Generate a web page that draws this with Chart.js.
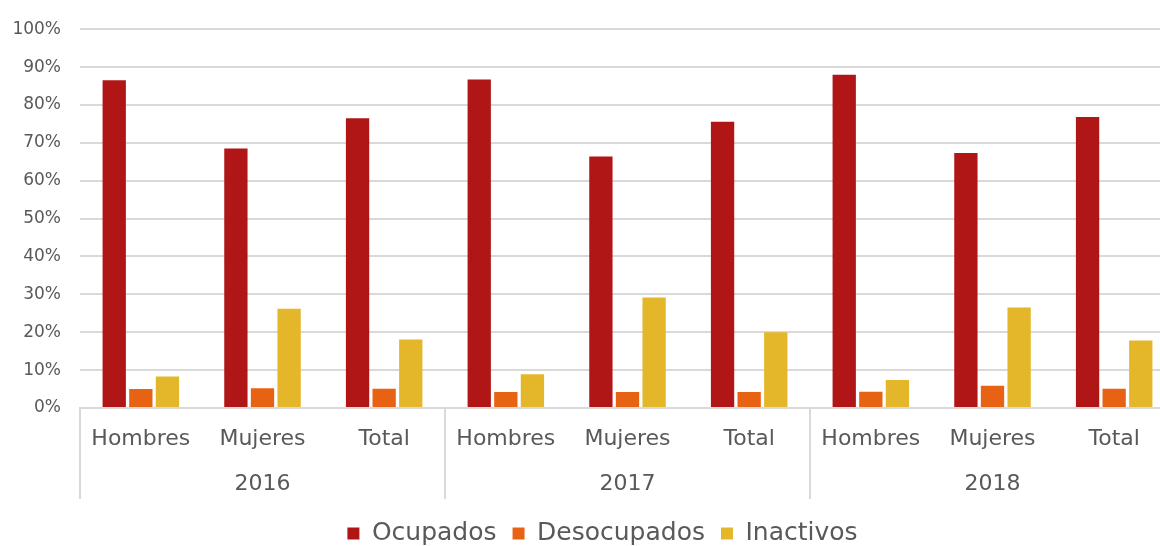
<!DOCTYPE html>
<html lang="es">
<head>
  <meta charset="UTF-8" />
  <title>Ocupados, desocupados e inactivos</title>
  <script src="https://cdn.jsdelivr.net/npm/chart.js"></script>
  <style>
    html, body { margin: 0; padding: 0; background: #fff; overflow: hidden; }
    .caja { width: 1205px; height: 546px; position: relative; }
  </style>
</head>
<body>
  <div class="caja">
    <canvas id="grafico"></canvas>
  </div>

<script>
  // datos (en %)
  const categorias = ["Hombres", "Mujeres", "Total", "Hombres", "Mujeres", "Total", "Hombres", "Mujeres", "Total"];
  const anios = ["2016", "2017", "2018"];
  const ocupados = [86.5, 68.5, 76.5, 86.7, 66.4, 75.6, 88.0, 67.3, 76.8];
  const desocupados = [5.0, 5.2, 5.1, 4.2, 4.2, 4.2, 4.3, 5.9, 5.1];
  const inactivos = [8.3, 26.2, 18.1, 8.9, 29.2, 20.0, 7.4, 26.5, 17.8];

  const gris = "#595959";
  const grisLinea = "#d9d9d9";
  const fuente = "'DejaVu Sans', sans-serif";

  // lineas verticales que separan cada año debajo del eje
  const separadores = {
    id: "separadores",
    afterDraw(chart) {
      const x = chart.scales.x;
      const x2 = chart.scales.x2;
      const ctx = chart.ctx;
      const paso = (x.getPixelForValue(1) - x.getPixelForValue(0));
      ctx.save();
      ctx.strokeStyle = grisLinea;
      ctx.lineWidth = 2;
      for (let i = 0; i <= categorias.length; i += 3) {
        const px = Math.round(x.getPixelForValue(i) - paso / 2);
        ctx.beginPath();
        ctx.moveTo(px, chart.chartArea.bottom);
        ctx.lineTo(px, x2.top + 46);
        ctx.stroke();
      }
      ctx.restore();
    }
  };

  const ctx = document.getElementById("grafico").getContext("2d");

  const datos = {
    labels: categorias,
    datasets: [
      { label: "Ocupados", data: ocupados, backgroundColor: "#b01615" },
      { label: "Desocupados", data: desocupados, backgroundColor: "#e86214" },
      { label: "Inactivos", data: inactivos, backgroundColor: "#e4b72a" }
    ]
  };

  const config = {
    type: "bar",
    data: datos,
    options: {
      responsive: true,
      maintainAspectRatio: false,
      animation: false,
      datasets: { bar: { categoryPercentage: 0.656, barPercentage: 0.876 } },
      layout: { padding: { top: 8, right: 0, left: 0, bottom: -10 } },
      plugins: {
        tooltip: { enabled: false },
        legend: {
          position: "bottom",
          labels: {
            color: gris,
            font: { family: fuente, size: 25 },
            boxWidth: 12,
            boxHeight: 12,
            padding: 16
          }
        }
      },
      scales: {
        x: {
          afterFit(scale) { scale.height = 45; },
          grid: { display: false, drawTicks: false },
          border: { display: true, color: grisLinea, width: 2 },
          ticks: { color: gris, font: { family: fuente, size: 22 }, padding: 18, maxRotation: 0, autoSkip: false }
        },
        x2: {
          type: "category",
          labels: anios,
          position: "bottom",
          afterFit(scale) { scale.height = 52; },
          grid: { display: false, drawTicks: false },
          border: { display: false },
          ticks: { color: gris, font: { family: fuente, size: 22 }, padding: 18 }
        },
        y: {
          min: 0,
          max: 100,
          afterFit(scale) { scale.width = 80; },
          border: { display: false },
          grid: { color: grisLinea, lineWidth: 2, drawTicks: false },
          ticks: {
            stepSize: 10,
            color: gris,
            padding: 19,
            font: { family: fuente, size: 17 },
            callback: (v) => v + "%"
          }
        },
        y2: {
          position: "right",
          afterFit(scale) { scale.width = 30; },
          grid: { display: false, drawTicks: false },
          border: { display: false },
          ticks: { display: false }
        }
      }
    },
    plugins: [separadores]
  };

  const grafico = new Chart(ctx, config);
</script>
</body>
</html>
